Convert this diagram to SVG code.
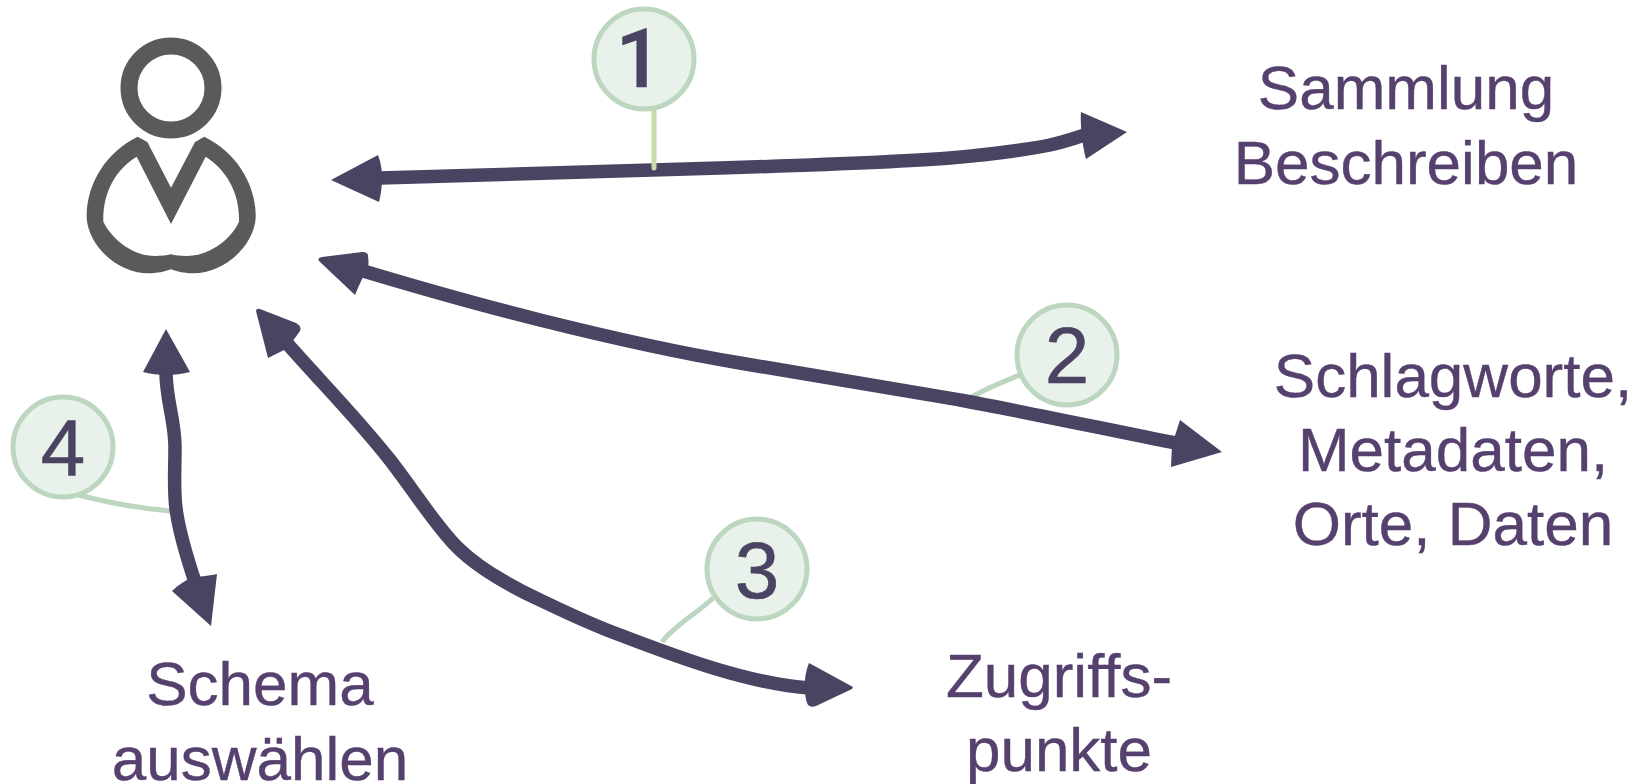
<svg xmlns="http://www.w3.org/2000/svg" width="1647" height="784" viewBox="0 0 1647 784">
<style>
.lbl{font-family:"Liberation Sans",Arial,sans-serif;font-size:62px;fill:#55406e;stroke:#55406e;stroke-width:.4;text-anchor:middle}
.num{font-family:"Liberation Sans",Arial,sans-serif;font-size:80px;fill:#4a4462;stroke:#4a4462;stroke-width:.6;text-anchor:middle}
.one{font-family:Roboto,"Liberation Sans",sans-serif;font-weight:500;font-size:81px}
.cl{fill:none;stroke:#4a4462;stroke-width:13.5}
.hd{fill:#4a4462}
.lead{fill:none;stroke:#bcd6bf;stroke-width:5}
.circ{fill:#e9f1eb;stroke:#bcd6bf;stroke-width:5}
</style>
<rect width="1647" height="784" fill="#ffffff"/>
<g id="person">
<circle cx="171" cy="88" r="42" fill="none" stroke="#5a5a5a" stroke-width="17"/>
<path transform="translate(60 20) scale(.33333)" fill="#5a5a5a" fill-rule="evenodd" d="M233 350L262 366L333 503L405 366L433 350C525 395 590 490 587 595C581 680 490 760 400 760C375 760 350 755 333 748C316 755 290 760 265 760C175 760 86 680 80 595C78 490 140 395 233 350ZM230 410L333 612L437 410C500 450 540 520 537 605C510 665 440 708 380 708C360 708 345 706 333 703C320 706 305 708 285 708C225 708 160 665 130 605C128 520 165 450 230 410Z"/>
</g>
<g id="connectors">
<path class="lead" d="M1020 375C1000 383 985 389 970 398"/>
<path class="lead" d="M713 598C695 615 675 625 662 642"/>
<path class="lead" d="M78 495C110 503 135 508 170 511"/>
<path class="cl" d="M380 178L720 168C800 165.500 900 162 950 158C983 155 1020 151 1050 145C1063 142 1075 139 1095 131"/>
<path class="hd" d="M331 180L378 155C381 163 382 170 382 178C382 186 381 194 379 202Z"/>
<path class="hd" d="M1127 132L1081 112C1080 122 1082 145 1086 159Z"/>
<path class="cl" d="M360 270C420 288 480 305 540 320C600 335 680 353 740 363C800 373 880 387 960 400C1020 411 1100 428 1180 444"/>
<path class="hd" d="M319 261Q317 258 322 257L362 252Q369 252 368 257Q369 262 368 268Q362 278 355 295Z"/>
<path class="hd" d="M1222 452L1180 420L1172 445L1171 467Z"/>
<path class="cl" d="M285 341C320 381 357 418 390 460C415 492 435 525 457 547C478 568 510 586 540 600C565 612 595 626 620 635C680 658 750 684 810 688"/>
<path class="hd" d="M256 311Q256 308 260 309L296 323Q302 326 300 331Q295 338 292 342L284 350L268 358Z"/>
<path class="hd" d="M853 687L809 663Q804 675 805 688Q805 700 808 705Q811 708 816 706L852 689Z"/>
<path class="cl" d="M166 372C166 400 175 420 175 447C175 475 173 495 177 515C181 540 188 560 195 582"/>
<path class="hd" d="M166 329L190 372C175 376 157 376 143 372Z"/>
<path class="hd" d="M211 626L217 574C208 576 198 577 192 577C185 581 178 585 172 591Z"/>
<path class="lead" d="M654 106L654 168" style="stroke:#c8dba6;stroke-linecap:round"/>
</g>
<g id="badge1"><circle class="circ" cx="644" cy="59" r="50"/><text class="num one" x="639" y="87">1</text></g>
<g id="badge2"><circle class="circ" cx="1067" cy="355" r="50"/><text class="num" x="1067" y="383">2</text></g>
<g id="badge3"><circle class="circ" cx="757" cy="569" r="50"/><text class="num" x="757" y="598">3</text></g>
<g id="badge4"><circle class="circ" cx="63" cy="447" r="50"/><text class="num" x="63" y="475">4</text></g>
<g id="label-sammlung"><text class="lbl" x="1406" y="109">Sammlung</text><text class="lbl" x="1406" y="184">Beschreiben</text></g>
<g id="label-schlagworte"><text class="lbl" x="1453" y="397">Schlagworte,</text><text class="lbl" x="1453" y="471">Metadaten,</text><text class="lbl" x="1453" y="545">Orte, Daten</text></g>
<g id="label-zugriff"><text class="lbl" x="1059" y="697">Zugriffs-</text><text class="lbl" x="1059" y="771">punkte</text></g>
<g id="label-schema"><text class="lbl" x="260" y="705">Schema</text><text class="lbl" x="260" y="780">auswählen</text></g>
</svg>
